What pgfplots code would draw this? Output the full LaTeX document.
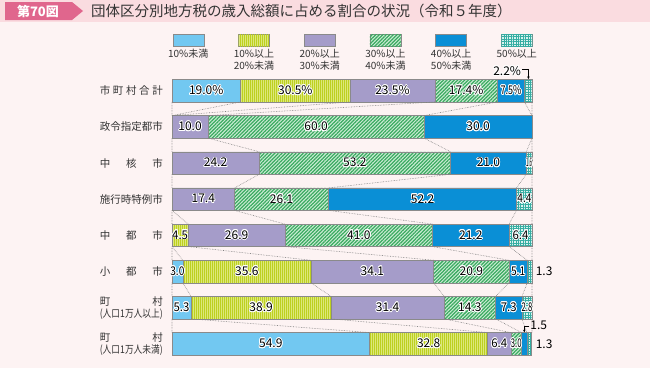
\documentclass[border=0pt]{standalone}
\usepackage{fontspec}
\setmainfont{Noto Sans CJK JP}
\usepackage{graphicx}
\usepackage{pgfplots}
\pgfplotsset{compat=1.18}
\usetikzlibrary{patterns.meta,arrows.meta}
\usepackage{contour}
\contourlength{0.8pt}
\definecolor{bgpink}{HTML}{FDF3F3}
\definecolor{band}{HTML}{FADCE0}
\definecolor{tag}{HTML}{E0668D}
\definecolor{txt}{HTML}{333333}
\definecolor{cA}{HTML}{72C8F1}
\definecolor{cB}{HTML}{DDE87A}
\definecolor{cBd}{HTML}{BDD020}
\definecolor{cC}{HTML}{A59CC9}
\definecolor{cDl}{HTML}{CDEDD5}
\definecolor{cD}{HTML}{3AAA60}
\definecolor{cE}{HTML}{0A8FD6}
\definecolor{cFl}{HTML}{D8F1EE}
\definecolor{cF}{HTML}{35ADA2}
\definecolor{edge}{HTML}{8A8A8A}
\newcommand{\sq}[2]{\scalebox{#1}[1]{#2}}
\newcommand{\lbl}{\fontsize{12}{13}\selectfont}
\tikzset{
 sA/.style={fill=cA},
 sB/.style={fill=cB, postaction={pattern={Lines[angle=90,distance=2pt,line width=0.7pt]}, pattern color=cBd}},
 sC/.style={fill=cC},
 sD/.style={fill=cDl, postaction={pattern={Lines[angle=45,distance=2.5pt,line width=1.25pt]}, pattern color=cD}},
 sE/.style={fill=cE},
 sF/.style={fill=cFl, postaction={pattern={Hatch[angle=0,distance=2.4pt,line width=0.7pt]}, pattern color=cF}},
}
\begin{document}
\begin{tikzpicture}[x=1pt,y=1pt]
\useasboundingbox (0,0) rectangle (650,368);
\fill[bgpink] (0,0) rectangle (650,368);
\fill[band] (0,346) rectangle (650,368);
\fill[tag] (5,366) -- (72,366) -- (83,357) -- (72,348) -- (5,348) -- cycle;
\node[text=white, font=\bfseries\fontsize{13}{14}\selectfont] at (38,357) {第70図};
\node[anchor=west, text=txt, font=\fontsize{14.5}{15}\selectfont, inner sep=0pt] at (91,357) {団体区分別地方税の歳入総額に占める割合の状況（令和５年度）};
% legend
\foreach \cx/\st/\tx in {188.3/sA/{10\%未満}, 254.0/sB/{10\%以上\\20\%未満}, 319.7/sC/{20\%以上\\30\%未満}, 385.4/sD/{30\%以上\\40\%未満}, 451.1/sE/{40\%以上\\50\%未満}, 516.8/sF/{50\%以上}}{
  \path[\st, draw=edge, line width=0.5pt] (\cx-15.5,322) rectangle (\cx+15.5,334);
  \node[anchor=north, align=center, text=txt, font=\fontsize{10}{12}\selectfont, inner sep=0pt] at (\cx,319) {\tx};
}
\begin{axis}[at={(172pt,6.1pt)}, anchor=south west, scale only axis,
  width=360pt, height=289.3pt, xmin=0, xmax=100, ymin=0.5, ymax=8.5,
  y dir=reverse, xbar stacked, bar width=22.5pt, clip=false,
  axis line style={draw=none}, xtick=\empty, ytick={1,...,8}, major tick length=0pt,
  y tick label style={anchor=east, inner sep=0pt, xshift=-9pt, align=center, text=txt, font=\fontsize{10.5}{12}\selectfont},
  yticklabels={
   {\makebox[63pt]{市\hfill 町\hfill 村\hfill 合\hfill 計}},
   {\makebox[63pt]{政\hfill 令\hfill 指\hfill 定\hfill 都\hfill 市}},
   {\makebox[63pt]{中\hfill 核\hfill 市}},
   {\makebox[63pt]{施\hfill 行\hfill 時\hfill 特\hfill 例\hfill 市}},
   {\makebox[63pt]{中\hfill 都\hfill 市}},
   {\makebox[63pt]{小\hfill 都\hfill 市}},
   {\makebox[63pt]{町\hfill 村}\\\resizebox{63pt}{\height}{(人口1万人以上)}},
   {\makebox[63pt]{町\hfill 村}\\\resizebox{63pt}{\height}{(人口1万人未満)}}},
  every axis plot/.append style={draw=edge, line width=0.5pt}]
\addplot[sA] coordinates {(19.0,1) (0,2) (0,3) (0,4) (0,5) (3.0,6) (5.3,7) (54.9,8)};
\addplot[sB] coordinates {(30.5,1) (0,2) (0,3) (0,4) (4.5,5) (35.6,6) (38.9,7) (32.8,8)};
\addplot[sC] coordinates {(23.5,1) (10.0,2) (24.2,3) (17.4,4) (26.9,5) (34.1,6) (31.4,7) (6.4,8)};
\addplot[sD] coordinates {(17.4,1) (60.0,2) (53.2,3) (26.1,4) (41.0,5) (20.9,6) (14.3,7) (3.0,8)};
\addplot[sE] coordinates {(7.5,1) (30.0,2) (21.0,3) (52.2,4) (21.2,5) (5.1,6) (7.3,7) (1.5,8)};
\addplot[sF] coordinates {(2.2,1) (0,2) (1.6,3) (4.4,4) (6.4,5) (1.3,6) (2.8,7) (1.3,8)};
\end{axis}
\begin{axis}[at={(172pt,6.1pt)}, anchor=south west, scale only axis,
  width=360pt, height=289.3pt, xmin=0, xmax=100, ymin=0.5, ymax=8.5,
  y dir=reverse, hide axis, clip=false]
\addplot[densely dotted, color=gray, line width=0.6pt, unbounded coords=jump] table {
x y
0 1.311
0 1.689
nan nan
19.0 1.311
0 1.689
nan nan
49.5 1.311
0 1.689
nan nan
73.0 1.311
10.0 1.689
nan nan
90.4 1.311
70.0 1.689
nan nan
97.9 1.311
100 1.689
nan nan
100 1.311
100 1.689
nan nan
0 2.311
0 2.689
nan nan
10.0 2.311
24.2 2.689
nan nan
70.0 2.311
77.4 2.689
nan nan
100 2.311
98.4 2.689
nan nan
100 2.311
100 2.689
nan nan
0 3.311
0 3.689
nan nan
24.2 3.311
17.4 3.689
nan nan
77.4 3.311
43.5 3.689
nan nan
98.4 3.311
95.7 3.689
nan nan
100 3.311
100 3.689
nan nan
0 4.311
0 4.689
nan nan
0 4.311
4.5 4.689
nan nan
17.4 4.311
31.4 4.689
nan nan
43.5 4.311
72.4 4.689
nan nan
95.7 4.311
93.6 4.689
nan nan
100 4.311
100 4.689
nan nan
0 5.311
0 5.689
nan nan
0 5.311
3.0 5.689
nan nan
4.5 5.311
38.6 5.689
nan nan
31.4 5.311
72.7 5.689
nan nan
72.4 5.311
93.6 5.689
nan nan
93.6 5.311
98.7 5.689
nan nan
100 5.311
100 5.689
nan nan
0 6.311
0 6.689
nan nan
3.0 6.311
5.3 6.689
nan nan
38.6 6.311
44.2 6.689
nan nan
72.7 6.311
75.6 6.689
nan nan
93.6 6.311
89.9 6.689
nan nan
98.7 6.311
97.2 6.689
nan nan
100 6.311
100 6.689
nan nan
0 7.311
0 7.689
nan nan
5.3 7.311
54.9 7.689
nan nan
44.2 7.311
87.7 7.689
nan nan
75.6 7.311
94.1 7.689
nan nan
89.9 7.311
97.1 7.689
nan nan
97.2 7.311
98.6 7.689
nan nan
100 7.311
100 7.689
};
\addplot[draw=none, mark=none, point meta=explicit symbolic,
  nodes near coords={\contour{white}{\pgfplotspointmeta}},
  every node near coord/.style={anchor=center, font=\lbl, inner sep=0pt, text=black}]
 coordinates {
 (9.5,1) [19.0\%] (34.25,1) [30.5\%] (61.25,1) [23.5\%] (81.7,1) [17.4\%] (94.15,1) [\sq{0.75}{7.5\%}]
 (5,2) [10.0] (40,2) [60.0] (85,2) [30.0]
 (12.1,3) [24.2] (50.8,3) [53.2] (87.9,3) [21.0] (99.2,3) [\sq{0.36}{1.6}]
 (8.7,4) [17.4] (30.45,4) [26.1] (69.6,4) [52.2] (97.9,4) [\sq{0.85}{4.4}]
 (2.25,5) [\sq{0.95}{4.5}] (17.95,5) [26.9] (51.9,5) [41.0] (83.0,5) [21.2] (96.8,5) [\sq{0.95}{6.4}]
 (1.5,6) [\sq{0.85}{3.0}] (20.8,6) [35.6] (55.65,6) [34.1] (83.15,6) [20.9] (96.15,6) [\sq{0.85}{5.1}]
 (2.65,7) [\sq{0.95}{5.3}] (24.75,7) [38.9] (59.9,7) [31.4] (82.75,7) [14.3] (93.55,7) [\sq{0.95}{7.3}] (98.6,7) [\sq{0.65}{2.8}]
 (27.45,8) [54.9] (71.3,8) [32.8] (90.9,8) [\sq{0.95}{6.4}] (95.6,8) [\sq{0.65}{3.0}]
 };
\node[font=\lbl, anchor=east, inner sep=0pt] at (axis cs:97.0,0.47) {\contour{white}{2.2\%}};
\draw[line width=0.5pt, -{Stealth[length=2.5pt,width=2.5pt]}] (axis cs:97.3,0.40) -- (axis cs:99.0,0.40) -- (axis cs:99.0,0.675);
\node[font=\lbl, anchor=west, inner sep=0pt] at (axis cs:101.0,6) {1.3};
\node[font=\lbl, anchor=west, inner sep=0pt] at (axis cs:101.0,8) {1.3};
\node[font=\lbl, anchor=west, inner sep=0pt] at (axis cs:99.5,7.48) {1.5};
\draw[line width=0.5pt, -{Stealth[length=2.5pt,width=2.5pt]}] (axis cs:99.3,7.52) -- (axis cs:97.85,7.52) -- (axis cs:97.85,7.68);
\end{axis}
\end{tikzpicture}
\end{document}
